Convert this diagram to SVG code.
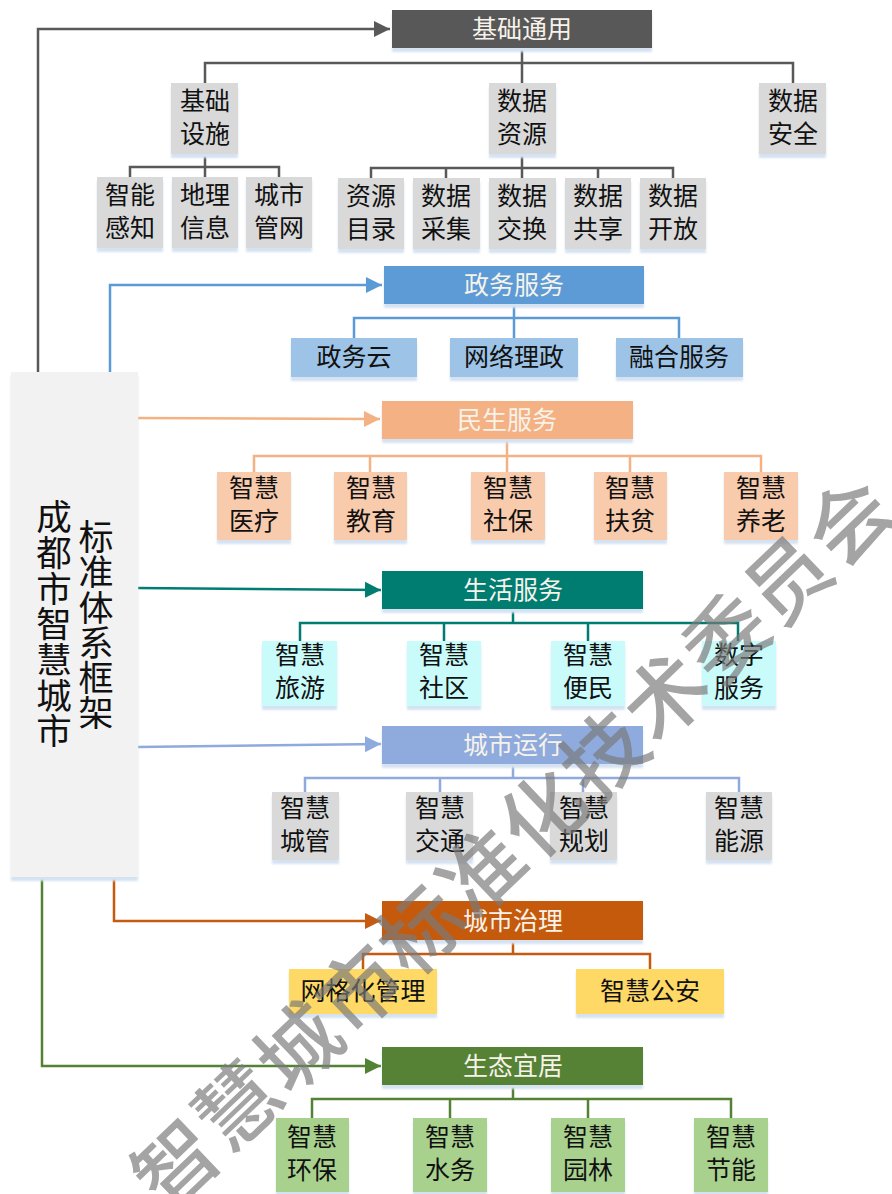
<svg xmlns="http://www.w3.org/2000/svg" width="892" height="1194" viewBox="0 0 892 1194">
<style>
text{font-family:"Noto Sans CJK SC","Noto Sans",sans-serif;text-anchor:middle}
.l{font-size:25px;fill:#111}
.h{font-size:25px;fill:#f7f2ea}
.box{filter:url(#sh)}
.c{fill:none;stroke-width:2.5}
.v{font-size:35px;fill:#111;writing-mode:vertical-rl;letter-spacing:.2px}
.w2{font-size:35.5px}
.wm{font-size:82px;fill:#7a7a7a;opacity:.68;text-anchor:start;letter-spacing:2.6px;font-weight:500}
.gy{stroke:#595959}.bl{stroke:#5b9bd5}.lo{stroke:#f4b183}.te{stroke:#007d71}.pe{stroke:#8faadc}.or{stroke:#c55a11}.gr{stroke:#548235}
</style>
<defs>
<filter id="sh" x="-10%" y="-10%" width="120%" height="130%"><feDropShadow dx="0" dy="4" stdDeviation="1" flood-color="#d5e2f2"/></filter>
<marker id="a1" markerUnits="userSpaceOnUse" markerWidth="18" markerHeight="18" refX="16" refY="9" orient="auto"><path d="M0 1L16 9L0 17Z" fill="#595959"/></marker>
<marker id="a2" markerUnits="userSpaceOnUse" markerWidth="18" markerHeight="18" refX="16" refY="9" orient="auto"><path d="M0 1L16 9L0 17Z" fill="#5b9bd5"/></marker>
<marker id="a3" markerUnits="userSpaceOnUse" markerWidth="18" markerHeight="18" refX="16" refY="9" orient="auto"><path d="M0 1L16 9L0 17Z" fill="#f4b183"/></marker>
<marker id="a4" markerUnits="userSpaceOnUse" markerWidth="18" markerHeight="18" refX="16" refY="9" orient="auto"><path d="M0 1L16 9L0 17Z" fill="#007d71"/></marker>
<marker id="a5" markerUnits="userSpaceOnUse" markerWidth="18" markerHeight="18" refX="16" refY="9" orient="auto"><path d="M0 1L16 9L0 17Z" fill="#8faadc"/></marker>
<marker id="a6" markerUnits="userSpaceOnUse" markerWidth="18" markerHeight="18" refX="16" refY="9" orient="auto"><path d="M0 1L16 9L0 17Z" fill="#c55a11"/></marker>
<marker id="a7" markerUnits="userSpaceOnUse" markerWidth="18" markerHeight="18" refX="16" refY="9" orient="auto"><path d="M0 1L16 9L0 17Z" fill="#548235"/></marker>
</defs>
<rect width="892" height="1194" fill="#fff"/>
<g id="connectors">
<path class="c gy" d="M38 373V29H390" marker-end="url(#a1)"/>
<path class="c bl" d="M110 373V285H382" marker-end="url(#a2)"/>
<path class="c lo" d="M138 418L380 419" marker-end="url(#a3)"/>
<path class="c te" d="M137 588L381 590" marker-end="url(#a4)"/>
<path class="c pe" d="M137 747L381 744" marker-end="url(#a5)"/>
<path class="c or" d="M114 877V921H381" marker-end="url(#a6)"/>
<path class="c gr" d="M42 877V1066H381" marker-end="url(#a7)"/>
<path class="c gy" d="M522 48V63M205 83V63H793V83M522 63V83"/>
<path class="c gy" d="M205 154V177M130 177V167H279V177"/>
<path class="c gy" d="M522 154V178M371 178V168H673V178M446 168V178M598 168V178"/>
<path class="c bl" d="M514 304V318M354 338V318H679V338M514 318V338"/>
<path class="c lo" d="M507 439V472M254 472V456H761V472M370 456V472M630 456V472"/>
<path class="c te" d="M513 609V623M300 641V623H738V641M444 623V641M588 623V641"/>
<path class="c pe" d="M513 764V778M305 792V778H739V792M440 778V792M583 778V792"/>
<path class="c or" d="M513 940V954M363 969V954H650V969"/>
<path class="c gr" d="M513 1085V1099M312 1118V1099H731V1118M450 1099V1118M588 1099V1118"/>
</g>
<g id="n-root"><rect class="box" x="11" y="372" width="127" height="505" fill="#f2f2f2"/><text class="v" x="96" y="625">标准体系框架</text><text class="v w2" x="54" y="624">成都市智慧城市</text></g>
<g id="n-jichu"><rect class="box" x="392" y="10" width="260" height="38" fill="#595959"/><text class="h" x="522" y="38">基础通用</text></g>
<g id="n-sheshi"><rect class="box" x="171" y="83" width="67" height="71" fill="#d9d9d9"/><text class="l" x="205" y="110">基础</text><text class="l" x="205" y="143">设施</text></g>
<g id="n-ziyuan"><rect class="box" x="489" y="83" width="67" height="71" fill="#d9d9d9"/><text class="l" x="522" y="110">数据</text><text class="l" x="522" y="143">资源</text></g>
<g id="n-anquan"><rect class="box" x="759" y="83" width="67" height="71" fill="#d9d9d9"/><text class="l" x="793" y="110">数据</text><text class="l" x="793" y="143">安全</text></g>
<g id="n-ganzhi"><rect class="box" x="97" y="177" width="66" height="71" fill="#d9d9d9"/><text class="l" x="130" y="204">智能</text><text class="l" x="130" y="237">感知</text></g>
<g id="n-dili"><rect class="box" x="172" y="177" width="66" height="71" fill="#d9d9d9"/><text class="l" x="205" y="204">地理</text><text class="l" x="205" y="237">信息</text></g>
<g id="n-guanwang"><rect class="box" x="246" y="177" width="66" height="71" fill="#d9d9d9"/><text class="l" x="279" y="204">城市</text><text class="l" x="279" y="237">管网</text></g>
<g id="n-mulu"><rect class="box" x="338" y="178" width="66" height="71" fill="#d9d9d9"/><text class="l" x="371" y="205">资源</text><text class="l" x="371" y="238">目录</text></g>
<g id="n-caiji"><rect class="box" x="413" y="178" width="67" height="71" fill="#d9d9d9"/><text class="l" x="446" y="205">数据</text><text class="l" x="446" y="238">采集</text></g>
<g id="n-jiaohuan"><rect class="box" x="489" y="178" width="67" height="71" fill="#d9d9d9"/><text class="l" x="522" y="205">数据</text><text class="l" x="522" y="238">交换</text></g>
<g id="n-gongxiang"><rect class="box" x="565" y="178" width="66" height="71" fill="#d9d9d9"/><text class="l" x="598" y="205">数据</text><text class="l" x="598" y="238">共享</text></g>
<g id="n-kaifang"><rect class="box" x="640" y="178" width="66" height="71" fill="#d9d9d9"/><text class="l" x="673" y="205">数据</text><text class="l" x="673" y="238">开放</text></g>
<g id="n-zhengwu"><rect class="box" x="384" y="266" width="260" height="38" fill="#5b9bd5"/><text class="h" x="514" y="294">政务服务</text></g>
<g id="n-zwy"><rect class="box" x="291" y="338" width="126" height="39" fill="#9dc3e6"/><text class="l" x="354" y="366">政务云</text></g>
<g id="n-wlz"><rect class="box" x="450" y="338" width="128" height="39" fill="#9dc3e6"/><text class="l" x="514" y="366">网络理政</text></g>
<g id="n-rh"><rect class="box" x="616" y="338" width="127" height="39" fill="#9dc3e6"/><text class="l" x="679" y="366">融合服务</text></g>
<g id="n-minsheng"><rect class="box" x="382" y="401" width="251" height="38" fill="#f4b183"/><text class="h" x="507" y="429">民生服务</text></g>
<g id="n-yl"><rect class="box" x="217" y="472" width="74" height="68" fill="#f8cbad"/><text class="l" x="254" y="497">智慧</text><text class="l" x="254" y="530">医疗</text></g>
<g id="n-jy"><rect class="box" x="334" y="472" width="73" height="68" fill="#f8cbad"/><text class="l" x="371" y="497">智慧</text><text class="l" x="371" y="530">教育</text></g>
<g id="n-sb"><rect class="box" x="471" y="472" width="74" height="68" fill="#f8cbad"/><text class="l" x="508" y="497">智慧</text><text class="l" x="508" y="530">社保</text></g>
<g id="n-fp"><rect class="box" x="594" y="472" width="73" height="68" fill="#f8cbad"/><text class="l" x="630" y="497">智慧</text><text class="l" x="630" y="530">扶贫</text></g>
<g id="n-yang"><rect class="box" x="724" y="472" width="74" height="68" fill="#f8cbad"/><text class="l" x="761" y="497">智慧</text><text class="l" x="761" y="530">养老</text></g>
<g id="n-shenghuo"><rect class="box" x="382" y="571" width="261" height="38" fill="#007d71"/><text class="h" x="513" y="599">生活服务</text></g>
<g id="n-ly"><rect class="box" x="262" y="641" width="75" height="65" fill="#c9fbfb"/><text class="l" x="300" y="664">智慧</text><text class="l" x="300" y="697">旅游</text></g>
<g id="n-sq"><rect class="box" x="407" y="641" width="74" height="65" fill="#c9fbfb"/><text class="l" x="444" y="664">智慧</text><text class="l" x="444" y="697">社区</text></g>
<g id="n-bm"><rect class="box" x="551" y="641" width="74" height="65" fill="#c9fbfb"/><text class="l" x="588" y="664">智慧</text><text class="l" x="588" y="697">便民</text></g>
<g id="n-sz"><rect class="box" x="702" y="641" width="74" height="65" fill="#c9fbfb"/><text class="l" x="739" y="664">数字</text><text class="l" x="739" y="697">服务</text></g>
<g id="n-yunxing"><rect class="box" x="382" y="726" width="261" height="38" fill="#8faadc"/><text class="h" x="513" y="754">城市运行</text></g>
<g id="n-cg"><rect class="box" x="272" y="792" width="67" height="68" fill="#d9d9d9"/><text class="l" x="305" y="817">智慧</text><text class="l" x="305" y="850">城管</text></g>
<g id="n-jt"><rect class="box" x="406" y="792" width="67" height="68" fill="#d9d9d9"/><text class="l" x="440" y="817">智慧</text><text class="l" x="440" y="850">交通</text></g>
<g id="n-gh"><rect class="box" x="550" y="792" width="67" height="68" fill="#d9d9d9"/><text class="l" x="584" y="817">智慧</text><text class="l" x="584" y="850">规划</text></g>
<g id="n-ny"><rect class="box" x="706" y="792" width="66" height="68" fill="#d9d9d9"/><text class="l" x="739" y="817">智慧</text><text class="l" x="739" y="850">能源</text></g>
<g id="n-zhili"><rect class="box" x="382" y="901" width="261" height="39" fill="#c55a11"/><text class="h" x="513" y="930">城市治理</text></g>
<g id="n-wgh"><rect class="box" x="289" y="969" width="148" height="45" fill="#ffd966"/><text class="l" x="363" y="1000">网格化管理</text></g>
<g id="n-ga"><rect class="box" x="576" y="969" width="148" height="45" fill="#ffd966"/><text class="l" x="650" y="1000">智慧公安</text></g>
<g id="n-shengtai"><rect class="box" x="382" y="1047" width="261" height="38" fill="#548235"/><text class="h" x="513" y="1075">生态宜居</text></g>
<g id="n-hb"><rect class="box" x="276" y="1118" width="73" height="74" fill="#a9d18e"/><text class="l" x="312" y="1146">智慧</text><text class="l" x="312" y="1179">环保</text></g>
<g id="n-sw"><rect class="box" x="413" y="1118" width="74" height="74" fill="#a9d18e"/><text class="l" x="450" y="1146">智慧</text><text class="l" x="450" y="1179">水务</text></g>
<g id="n-yuanlin"><rect class="box" x="551" y="1118" width="74" height="74" fill="#a9d18e"/><text class="l" x="588" y="1146">智慧</text><text class="l" x="588" y="1179">园林</text></g>
<g id="n-jn"><rect class="box" x="694" y="1118" width="74" height="74" fill="#a9d18e"/><text class="l" x="731" y="1146">智慧</text><text class="l" x="731" y="1179">节能</text></g>
<text class="wm" transform="translate(177 1165) rotate(-43.7)" x="-41" y="29">智慧城市标准化技术委员会</text>
</svg>
